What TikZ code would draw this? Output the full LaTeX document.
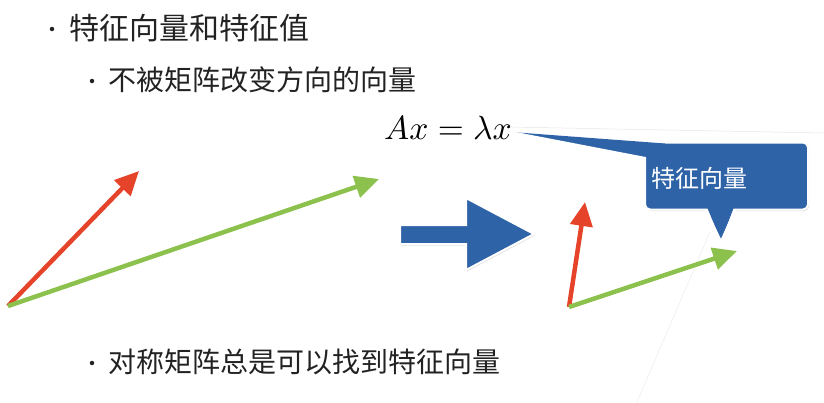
\documentclass[tikz,border=0pt]{standalone}
\usepackage{fontspec}
\usepackage{graphicx}
\newfontfamily\cjk{Noto Sans CJK SC}
\usetikzlibrary{arrows.meta,shadows}
\definecolor{vred}{HTML}{E5432A}
\definecolor{vgreen}{HTML}{8CC14E}
\definecolor{cblue}{HTML}{2F63A8}
\definecolor{txt}{HTML}{222222}
\tikzset{
  vec/.style={line width=4.5pt,-{Triangle[length=24pt,width=22pt]}},
  bullet/.style={circle,fill=txt,inner sep=0pt,minimum size=4.5pt},
  btext/.style={anchor=west,inner sep=0pt,text=txt,font=\cjk\fontsize{28}{32}\selectfont},
}
\begin{document}
\begin{tikzpicture}[x=1pt,y=-1pt]
\useasboundingbox (0,0) rectangle (824,402);
% bullets
\node[bullet] (d1) at (52,29) {};
\node[btext,font=\cjk\fontsize{30}{34}\selectfont] (t1) at (69,28) {特征向量和特征值};
\node[bullet] (d2) at (92,81) {};
\node[btext] (t2) at (108,80) {不被矩阵改变方向的向量};
\node[bullet] (d3) at (92,363) {};
\node[btext] (t3) at (108,362) {对称矩阵总是可以找到特征向量};
% equation
\node[anchor=west,inner sep=0pt] (eq) at (384,128) {\scalebox{3.35}{$Ax=\lambda x$}};
% faint lines
\coordinate (f1) at (510,127);
\coordinate (f2) at (824,133);
\draw[black!10,line width=0.5pt] (f1) -- (f2);
\coordinate (g1) at (710,232);
\coordinate (g2) at (637,402);
\draw[black!8,line width=0.5pt] (g1) -- (g2);
% left vectors
\coordinate (o1) at (8,306);
\coordinate (r1) at (139,171);
\coordinate (gr1) at (379,179);
\draw[vec,vred] (o1) -- (r1);
\draw[vec,vgreen] (o1) -- (gr1);
% big blue arrow
\path[fill=cblue,draw=white,line width=2pt,drop shadow={opacity=0.25,shadow xshift=1pt,shadow yshift=-1.5pt}]
  (400,225) -- (466,225) -- (466,198) -- (534,234) -- (466,270) -- (466,244) -- (400,244) -- cycle;
% right vectors
\coordinate (o2) at (569,307);
\coordinate (r2) at (585,202);
\coordinate (gr2) at (737,251);
\draw[vec,vred] (o2) -- (r2);
\draw[vec,vgreen] (o2) -- (gr2);
% callout
\node[draw=white,line width=2pt,fill=cblue,rounded corners=5pt,minimum width=163pt,minimum height=67pt,
  drop shadow={opacity=0.3,shadow xshift=1pt,shadow yshift=-1.5pt}] (cb) at (726.5,176) {};
\node[anchor=west,inner sep=0pt,text=white,font=\cjk\fontsize{24}{28}\selectfont] (ct) at (651,178) {特征向量};
% wedge to equation
\coordinate (wt) at (511,132);
\fill[cblue] (wt) -- (665,143.5) -- (660,150) -- (646,158) -- cycle;
\draw[white,line width=1.8pt] (wt) -- (646,158);
% pointer down
\coordinate (pt) at (721,241);
\fill[cblue] (707,207) -- (734,207) -- (pt) -- cycle;
\draw[white,line width=1.8pt,line join=round] (706,210) -- (pt) -- (735,210);
\end{tikzpicture}
\end{document}
